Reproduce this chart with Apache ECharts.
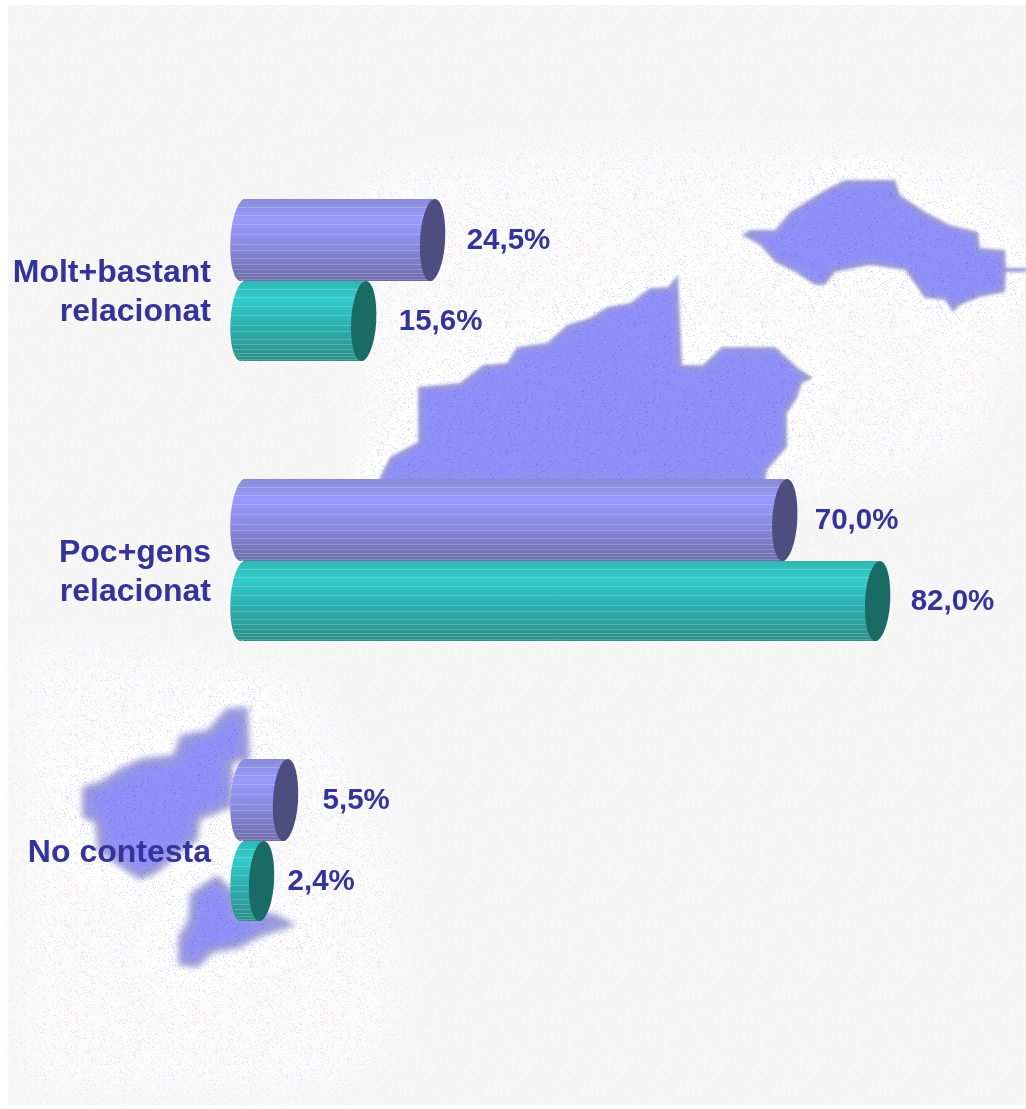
<!DOCTYPE html>
<html><head><meta charset="utf-8">
<style>html,body{margin:0;padding:0;background:#fff}#c{width:1026px;height:1109px}</style>
<script src="https://cdn.jsdelivr.net/npm/echarts@6/dist/echarts.min.js"></script>
</head><body><div id="c"></div>
<script>
const categories = ['Molt+bastant\nrelacionat', 'Poc+gens\nrelacionat', 'No contesta'];
const purpleValues = [24.5, 70.0, 5.5];
const tealValues = [15.6, 82.0, 2.4];

// decoration / layout, separate from the data
const labelNudgePurple = [34, 30, 37];
const labelNudgeTeal = [35, 33, 26];
const stripeFractions = [0.1, 0.2, 0.31, 0.43, 0.55, 0.62, 0.72, 0.79, 0.85, 0.9, 0.94, 0.97];
const mapTopRight = [[742,235],[750,230],[775,230],[790,212],[825,190],[845,180],[895,180],[900,195],[925,212],[950,225],[978,232],[980,248],[1005,250],[1006,268],[1026,268],[1026,272],[1006,272],[1005,292],[980,297],[960,305],[953,312],[945,300],[925,298],[905,270],[870,265],[835,272],[825,285],[815,285],[795,272],[775,262],[760,245]];
const mapCentre = [[380,477],[390,457],[418,442],[418,387],[460,383],[483,365],[507,363],[517,347],[547,343],[567,325],[590,318],[607,307],[630,303],[650,288],[668,287],[678,275],[682,365],[703,365],[722,347],[775,347],[798,368],[813,378],[802,383],[797,398],[787,413],[787,447],[767,470],[760,520],[380,520]];
const mapLeft = [[82,787],[103,780],[120,768],[143,758],[173,755],[180,735],[207,730],[227,708],[248,707],[250,760],[233,763],[233,807],[200,820],[198,840],[180,853],[157,873],[140,880],[120,867],[97,850],[95,823],[82,817]];
const mapSmall = [[217,875],[233,890],[240,913],[273,913],[297,925],[260,937],[240,948],[213,953],[197,968],[178,965],[178,937],[188,920],[190,893]];
const maps = [mapTopRight, mapCentre, mapLeft, mapSmall];
const patches = [
  [[15,640],[300,660],[400,850],[400,1050],[330,1095],[15,1095]],
  [[350,170],[600,140],[1026,150],[1026,340],[960,470],[820,500],[700,500],[360,500]]
];
const INK = '#333399';
const W = 1026, H = 1109;

function specks(base, colors, n, size) {
  const cv = document.createElement('canvas');
  cv.width = cv.height = size;
  const g = cv.getContext('2d');
  if (base) { g.fillStyle = base; g.fillRect(0, 0, size, size); }
  let s = 7;
  for (let i = 0; i < n; i++) {
    s = (s * 16807) % 2147483647; const x = s % size;
    s = (s * 16807) % 2147483647; const y = s % size;
    g.fillStyle = colors[i % colors.length];
    g.fillRect(x, y, 1, 1);
  }
  return cv;
}
function trace(g, pts) {
  g.beginPath();
  pts.forEach((p, i) => i ? g.lineTo(p[0], p[1]) : g.moveTo(p[0], p[1]));
  g.closePath();
}
function layer() {
  const cv = document.createElement('canvas');
  cv.width = W; cv.height = H;
  return [cv, cv.getContext('2d')];
}
function paintBackground() {
  const [cv, g] = layer();
  g.fillStyle = '#ffffff'; g.fillRect(0, 0, W, H);
  g.fillStyle = g.createPattern(specks('#f6f6f6', ['#f1f1f1', '#fbfbfb', '#f3f3f0'], 2600, 96), 'repeat');
  g.fillRect(8, 5, W - 8, 1100);

  // soft white dotted haze around the maps
  const [hv, h] = layer();
  h.filter = 'blur(24px)';
  h.fillStyle = 'rgba(255,255,255,.6)';
  patches.forEach(p => { trace(h, p); h.fill(); });
  h.filter = 'blur(9px)';
  h.strokeStyle = '#fff'; h.fillStyle = '#fff'; h.lineWidth = 34; h.lineJoin = 'round';
  maps.forEach(p => { trace(h, p); h.stroke(); h.fill(); });
  h.filter = 'none';
  h.globalCompositeOperation = 'source-in';
  h.fillStyle = h.createPattern(specks('#ffffff', ['#d6d6ff', '#ffd2ff', '#c8ecff', '#f8f8c8', '#ffffff'], 3000, 128), 'repeat');
  h.fillRect(0, 0, W, H);
  g.drawImage(hv, 0, 0);

  // map shapes: saturated core with a grey-blue soft rim and fine dots
  const [mv, m] = layer();
  maps.forEach((p, i) => {
    m.filter = 'blur(' + (i >= 2 ? 3 : 1.6) + 'px)';
    m.fillStyle = '#8f8ff8';
    trace(m, p); m.fill();
  });
  m.globalCompositeOperation = 'source-atop';
  m.lineJoin = 'round';
  m.strokeStyle = '#9c9cd4';
  maps.forEach((p, i) => {
    m.filter = 'blur(' + (i >= 2 ? 5 : 2.5) + 'px)';
    m.lineWidth = i >= 2 ? 16 : 9;
    trace(m, p); m.stroke();
  });
  m.filter = 'none';
  m.fillStyle = m.createPattern(specks(null, ['rgba(105,85,235,.5)', 'rgba(120,120,225,.5)', 'rgba(175,170,255,.5)'], 1100, 128), 'repeat');
  m.fillRect(0, 0, W, H);
  g.drawImage(mv, 0, 0);
  return cv;
}

function grad(stops) {
  return { type: 'linear', x: 0, y: 0, x2: 0, y2: 1, colorStops: stops.map(([offset, color]) => ({ offset, color })) };
}
const purpleStyle = { body: grad([[0,'#8b8bd6'],[0.25,'#9999ff'],[0.6,'#8888de'],[1,'#6c6cab']]), cap: '#4d4d80', up: 1, ratio: 82 / 280 };
const tealStyle = { body: grad([[0,'#2fb8b2'],[0.22,'#33cccc'],[0.6,'#2bacac'],[1,'#2c8f8a']]), cap: '#1a6b66', up: 0, ratio: 80 / 280 };

function cylinder(look, nudges) {
  return function (params, api) {
    const end = api.coord([api.value(0), api.value(1)]);
    const start = api.coord([0, api.value(1)]);
    const band = api.size([0, 1])[1];
    const h = band * look.ratio, ry = h / 2, rx = 12.5, tilt = -0.06;
    const top = look.up ? start[1] - h : start[1];
    const cy = top + ry;
    const children = [
      { type: 'ellipse', shape: { cx: start[0], cy, rx, ry }, rotation: tilt, originX: start[0], originY: cy, style: { fill: look.body } },
      { type: 'rect', shape: { x: start[0], y: top, width: end[0] - start[0], height: h }, style: { fill: look.body } }
    ];
    stripeFractions.forEach(f => {
      const y = Math.round(top + h * f) + 0.5;
      const dx = rx * Math.sqrt(1 - Math.pow(2 * f - 1, 2));
      children.push({ type: 'line', shape: { x1: start[0] - dx, y1: y, x2: end[0], y2: y },
        style: { stroke: 'rgba(255,255,255,.2)', lineWidth: 1 } });
    });
    children.push({ type: 'ellipse', shape: { cx: end[0], cy, rx, ry }, rotation: tilt, originX: end[0], originY: cy, style: { fill: look.cap } });
    children.push({ type: 'text', style: {
      x: end[0] + nudges[params.dataIndex], y: cy + 1,
      text: api.value(0).toFixed(1).replace('.', ',') + '%',
      font: 'bold 29.5px "Liberation Sans", Arial, sans-serif', fill: INK, align: 'left', verticalAlign: 'middle' } });
    return { type: 'group', children };
  };
}

const chart = echarts.init(document.getElementById('c'), null, { renderer: 'canvas' });
chart.setOption({
  animation: false,
  graphic: { elements: [{ type: 'image', silent: true, style: { image: paintBackground(), x: 0, y: 0, width: W, height: H } }] },
  grid: { left: 243, top: 141, width: 774, height: 840 },
  xAxis: { type: 'value', min: 0, max: 100, show: false },
  yAxis: {
    type: 'category', data: categories, inverse: true, z: 5,
    axisLine: { show: false }, axisTick: { show: false }, splitLine: { show: false },
    axisLabel: {
      margin: 32, align: 'right',
      formatter: v => '{s| }\n' + v.split('\n').map(t => '{t|' + t + '}').join('\n'),
      rich: {
        s: { lineHeight: 24, fontSize: 10, align: 'right' },
        t: { color: INK, fontFamily: '"Liberation Sans", Arial, sans-serif', fontWeight: 'bold', fontSize: 32, lineHeight: 39, align: 'right' }
      }
    }
  },
  series: [
    { type: 'custom', name: 'Purple', coordinateSystem: 'cartesian2d', encode: { x: 0, y: 1 },
      data: purpleValues.map((v, i) => [v, i]), renderItem: cylinder(purpleStyle, labelNudgePurple), z: 3 },
    { type: 'custom', name: 'Teal', coordinateSystem: 'cartesian2d', encode: { x: 0, y: 1 },
      data: tealValues.map((v, i) => [v, i]), renderItem: cylinder(tealStyle, labelNudgeTeal), z: 4 }
  ]
});
</script></body></html>
